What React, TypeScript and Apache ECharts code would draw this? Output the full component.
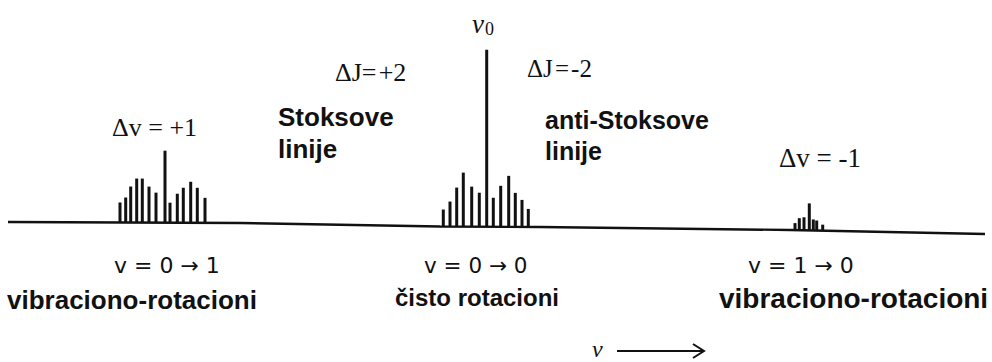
import { useEffect, useRef } from "react";
import * as echarts from "echarts";

// Frequency positions and intensities (above the baseline) of the spectral lines
const stokesX = [120, 125.7, 130.7, 136.7, 142.3, 149, 156, 165, 170, 177.3, 183.3, 190.7, 197.3, 205];
const stokesI = [20, 25, 36, 44, 44, 36, 30, 72, 20, 29, 35, 41, 35, 25];
const rayleighX = [443.3, 450, 456.7, 463.3, 471.7, 479.3, 486.7, 493.3, 500.7, 508.7, 515.3, 522, 528.3];
const rayleighI = [17, 25, 39, 54, 40, 34, 177, 29, 41, 51, 34, 27, 18];
const antiX = [795, 799.3, 804, 809.3, 813.3, 816.7, 822.7];
const antiI = [7, 12, 13, 27, 11, 10, 6];

// Slowly drifting baseline of the recorded spectrum
const baselineX = [8, 240, 440, 540, 790, 985];
const baselineY = [140, 139, 135.5, 135, 132, 128];

const baseAt = (x: number) => {
  for (let i = 0; i < baselineX.length - 1; i++) {
    if (x >= baselineX[i] && x <= baselineX[i + 1]) {
      const t = (x - baselineX[i]) / (baselineX[i + 1] - baselineX[i]);
      return baselineY[i] + t * (baselineY[i + 1] - baselineY[i]);
    }
  }
  return baselineY[baselineY.length - 1];
};

const toLines = (xs: number[], is: number[]) => xs.map((x, i) => [x, is[i]]);

const serif = "'Liberation Serif', 'Times New Roman', serif";
const sans = "'Liberation Sans', Arial, sans-serif";
const light = "'DejaVu Sans', sans-serif";

export default function App() {
  const ref = useRef<HTMLDivElement>(null);

  useEffect(() => {
    document.body.style.margin = "0";
    const chart = echarts.init(ref.current!, undefined, { renderer: "svg" });

    const renderLine = (params: any, api: any) => {
      const x = api.value(0);
      const h = api.value(1);
      const b = baseAt(x);
      const p0 = api.coord([x, b]);
      const p1 = api.coord([x, b + h]);
      return {
        type: "line",
        shape: { x1: p0[0], y1: p0[1], x2: p1[0], y2: p1[1] },
        style: { stroke: "#111", lineWidth: 3 },
      };
    };

    const lineSeries = (name: string, data: number[][]) => ({
      name,
      type: "custom",
      renderItem: renderLine,
      data,
      silent: true,
    });

    const text = (
      x: number,
      y: number,
      t: string,
      font: string,
      size: number,
      weight: string = "normal"
    ) => ({
      type: "text",
      x,
      y,
      style: {
        text: t,
        fontFamily: font,
        fontSize: size,
        fontWeight: weight,
        fill: "#111",
        textAlign: "left",
        textVerticalAlign: "middle",
      },
    });

    chart.setOption({
      animation: false,
      backgroundColor: "#fff",
      grid: { left: 0, right: 0, top: 0, bottom: 0 },
      xAxis: { type: "value", min: 0, max: 992, show: false },
      yAxis: { type: "value", min: 0, max: 362, show: false },
      series: [
        {
          name: "baseline",
          type: "line",
          data: baselineX.map((x, i) => [x, baselineY[i]]),
          symbol: "none",
          lineStyle: { color: "#111", width: 2.4 },
          silent: true,
        },
        lineSeries("Stokes", toLines(stokesX, stokesI)),
        lineSeries("Rayleigh", toLines(rayleighX, rayleighI)),
        lineSeries("anti-Stokes", toLines(antiX, antiI)),
      ],
      graphic: [
        {
          type: "text",
          x: 472,
          y: 24,
          style: {
            text: "{nu|ν}{sub|0}",
            textVerticalAlign: "middle",
            rich: {
              nu: { fontFamily: serif, fontStyle: "italic", fontSize: 27, fill: "#111" },
              sub: { fontFamily: serif, fontSize: 18, fill: "#111", padding: [10, 0, 0, 1] },
            },
          },
        },
        text(335, 72, "ΔJ=\u200A+2", serif, 26),
        text(527, 68, "ΔJ\u200A=\u200A-2", serif, 25),
        text(112, 127, "Δv = +1", serif, 26),
        text(779, 158, "Δv = -1", serif, 27),
        text(278, 117, "Stoksove", sans, 26, "bold"),
        text(278, 149, "linije", sans, 26, "bold"),
        text(545, 120, "anti-Stoksove", sans, 25, "bold"),
        text(545, 151, "linije", sans, 25, "bold"),
        text(114, 265, "v = 0 → 1", light, 22),
        text(424, 265, "v = 0 → 0", light, 21.5),
        text(748, 265, "v = 1 → 0", light, 22),
        text(7, 300, "vibraciono-rotacioni", sans, 26, "bold"),
        text(395, 297, "čisto rotacioni", sans, 24, "bold"),
        text(719, 298, "vibraciono-rotacioni", sans, 28, "bold"),
        {
          type: "text",
          x: 592,
          y: 349,
          style: {
            text: "ν",
            fontFamily: serif,
            fontStyle: "italic",
            fontSize: 24,
            fill: "#111",
            textVerticalAlign: "middle",
          },
        },
        {
          type: "line",
          shape: { x1: 617, y1: 351, x2: 703, y2: 351 },
          style: { stroke: "#111", lineWidth: 2 },
        },
        {
          type: "polyline",
          shape: { points: [[693, 344], [704, 351], [693, 358]] },
          style: { stroke: "#111", lineWidth: 2, fill: "none" },
        },
      ],
    });

    return () => chart.dispose();
  }, []);

  return <div ref={ref} style={{ width: 992, height: 362 }} />;
}
